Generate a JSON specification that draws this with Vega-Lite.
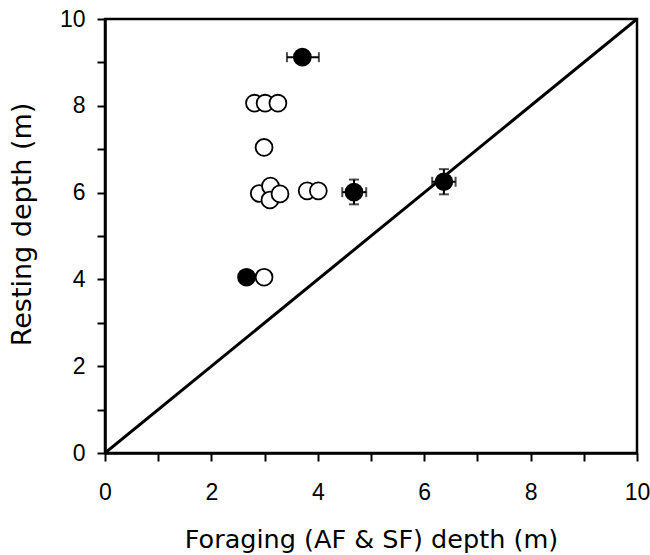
{
  "$schema": "https://vega.github.io/schema/vega-lite/v6.json",
  "width": 532,
  "height": 434,
  "autosize": "none",
  "padding": {"left": 105, "top": 19, "right": 13, "bottom": 102},
  "background": "white",
  "config": {
    "view": {"stroke": "black", "strokeWidth": 2.5},
    "font": "Liberation Sans",
    "axis": {
      "domainColor": "black", "domainWidth": 2.5, "tickColor": "black", "tickWidth": 2, "tickSize": 8,
      "grid": false, "labelFont": "Liberation Sans", "titleFont": "DejaVu Sans", "labelFlush": false, "labelOverlap": false,
      "labelFontSize": 23, "titleFontSize": 25.5, "labelColor": "black", "titleColor": "black", "titleFontWeight": "normal"
    }
  },
  "datasets": {
    "pts": [
      {"x": 3.71, "y": 9.12, "kind": "filled", "xlo": 3.42, "xhi": 4.02, "ylo": null, "yhi": null},
      {"x": 2.81, "y": 8.06, "kind": "open"},
      {"x": 3.01, "y": 8.06, "kind": "open"},
      {"x": 3.25, "y": 8.06, "kind": "open"},
      {"x": 2.99, "y": 7.04, "kind": "open"},
      {"x": 2.90, "y": 5.98, "kind": "open"},
      {"x": 3.11, "y": 6.15, "kind": "open"},
      {"x": 3.10, "y": 5.83, "kind": "open"},
      {"x": 3.29, "y": 5.97, "kind": "open"},
      {"x": 3.80, "y": 6.04, "kind": "open"},
      {"x": 4.01, "y": 6.04, "kind": "open"},
      {"x": 4.68, "y": 6.01, "kind": "filled", "xlo": 4.46, "xhi": 4.91, "ylo": 5.73, "yhi": 6.30},
      {"x": 6.37, "y": 6.25, "kind": "filled", "xlo": 6.15, "xhi": 6.59, "ylo": 5.96, "yhi": 6.54},
      {"x": 2.99, "y": 4.05, "kind": "open"},
      {"x": 2.66, "y": 4.05, "kind": "filled"}
    ],
    "diag": [{"x": 0, "y": 0}, {"x": 10, "y": 10}]
  },
  "layer": [
    {
      "data": {"name": "diag"},
      "mark": {"type": "line", "color": "black", "strokeWidth": 3, "clip": true},
      "encoding": {
        "x": {"field": "x", "type": "quantitative", "scale": {"domain": [0, 10], "nice": false}, "title": "Foraging (AF & SF) depth (m)",
          "axis": {"values": [0,1,2,3,4,5,6,7,8,9,10], "labelExpr": "datum.value % 2 === 0 ? datum.label : ''", "labelPadding": 20, "titleX": 266, "titleY": 74, "titleAnchor": "middle", "titleAlign": "center", "titleBaseline": "top"}},
        "y": {"field": "y", "type": "quantitative", "scale": {"domain": [0, 10], "nice": false}, "title": "Resting depth (m)",
          "axis": {"values": [0,1,2,3,4,5,6,7,8,9,10], "labelExpr": "datum.value % 2 === 0 ? datum.label : ''", "labelPadding": 12, "titleFontSize": 27, "titleX": -69, "titleY": 205, "titleAlign": "center", "titleBaseline": "bottom", "titleAngle": -90}}
      }
    },
    {
      "data": {"name": "pts"},
      "transform": [{"filter": "datum.xlo != null"}],
      "mark": {"type": "errorbar", "ticks": {"size": 10, "thickness": 2, "color": "black"}, "rule": {"strokeWidth": 2, "color": "black"}},
      "encoding": {
        "x": {"field": "xlo", "type": "quantitative", "title": "Foraging (AF & SF) depth (m)"},
        "x2": {"field": "xhi"},
        "y": {"field": "y", "type": "quantitative", "title": "Resting depth (m)"}
      }
    },
    {
      "data": {"name": "pts"},
      "transform": [{"filter": "datum.ylo != null"}],
      "mark": {"type": "errorbar", "ticks": {"size": 10, "thickness": 2, "color": "black"}, "rule": {"strokeWidth": 2, "color": "black"}},
      "encoding": {
        "y": {"field": "ylo", "type": "quantitative", "title": "Resting depth (m)"},
        "y2": {"field": "yhi"},
        "x": {"field": "x", "type": "quantitative", "title": "Foraging (AF & SF) depth (m)"}
      }
    },
    {
      "data": {"name": "pts"},
      "mark": {"type": "point", "shape": "circle", "size": 285, "strokeWidth": 1.8, "opacity": 1, "stroke": "black"},
      "encoding": {
        "x": {"field": "x", "type": "quantitative", "title": "Foraging (AF & SF) depth (m)"},
        "y": {"field": "y", "type": "quantitative", "title": "Resting depth (m)"},
        "fill": {"field": "kind", "type": "nominal", "scale": {"domain": ["filled", "open"], "range": ["black", "white"]}, "legend": null},
        "order": {"field": "kind", "sort": "descending"}
      }
    }
  ]
}
